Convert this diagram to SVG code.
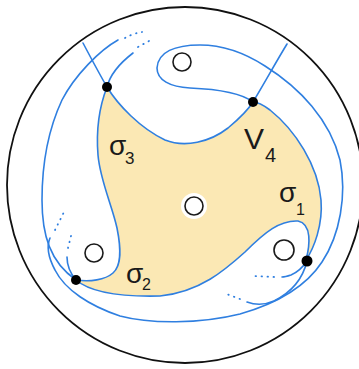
<svg xmlns="http://www.w3.org/2000/svg" width="359" height="369" viewBox="0 0 359 369">
<style>
.c{fill:none;stroke:#2f7fe0;stroke-width:1.6;stroke-linecap:round;stroke-linejoin:round}
.d{fill:none;stroke:#2f7fe0;stroke-width:1.8;stroke-linecap:round;stroke-dasharray:0.5 5.5}
.h{fill:#fff;stroke:#1a1a1a;stroke-width:1.6}
.p{fill:#000}
.t{font-family:"Liberation Sans","DejaVu Sans",sans-serif;fill:#1a1a1a}
</style>
<rect width="359" height="369" fill="#fff"/>
<g id="disk"><circle cx="185" cy="185" r="178" fill="none" stroke="#111" stroke-width="1.8"/></g>
<g id="region">
<path fill="#fbe8b4" d="M107,87 C118,105 140,128 165,140 C185,148 210,142 228,128 C240,118 248,110 253,102 C258,102 262,104 270,110 C295,130 318,165 321,200 C323,225 314,248 306,260 C310,245 312,224 298,221 C280,220 265,232 245,252 C225,270 200,292 160,296 C120,297 90,292 76,280 C90,282 105,280 113,273 C122,265 121,248 117,228 C112,205 100,180 98,155 C96,130 100,105 107,87 Z"/>
<circle cx="194" cy="206" r="13" fill="#fff"/>
</g>
<g id="connectors">
<path class="c" d="M83,43 C92,60 100,75 107,87 C118,105 140,128 165,140 C185,148 210,142 228,128 C240,118 248,110 253,102 C265,82 276,62 287,44"/>
<path class="c" d="M133,53 C120,63 110,75 107,87 C100,105 96,130 98,155 C100,180 112,205 117,228 C121,248 122,265 113,273 C105,280 90,282 76,280"/>
<path class="d" d="M138,47 L149,41"/>
<path class="c" d="M118,40 C100,50 75,75 62,100 C48,130 42,165 42,200 C42,235 50,262 76,280 C90,292 120,297 160,296 C200,292 225,270 245,252 C265,232 280,220 298,221 C312,224 310,245 306,260"/>
<path class="d" d="M125,38 C130,35 136,33 142,32"/>
<path class="c" d="M306,260 C314,248 323,225 321,200 C318,165 295,130 270,110 C262,104 258,102 253,102 C240,92 215,89 190,88 C170,87 157,80 157,68 C158,52 175,45 200,45 C225,45 248,55 265,66 C300,88 330,120 340,160 C347,195 340,235 322,262 C305,288 275,304 240,314 C200,324 150,324 120,316 C90,306 65,290 55,270 C47,255 47,245 50,238"/>
<path class="d" d="M55,230 L64,212"/>
<path class="c" d="M76,280 C70,273 67,265 67,257"/>
<path class="d" d="M68,248 L72,232"/>
<path class="c" d="M307,261 C303,267 298,272 291,275 C288,276 285,277 282,277"/>
<path class="d" d="M274,277 L254,276"/>
<path class="c" d="M307,261 C303,278 292,292 274,301 C265,305 255,305 247,302"/>
<path class="d" d="M240,299 L224,293"/>
</g>
<g id="holes">
<circle class="h" cx="182" cy="62" r="9"/>
<circle class="h" cx="194" cy="206" r="9"/>
<circle class="h" cx="94" cy="253" r="9"/>
<circle class="h" cx="284" cy="250" r="10"/>
</g>
<g id="sigma3"><circle class="p" cx="107" cy="87" r="5"/><text class="t" x="109" y="155" font-size="28">σ</text><text class="t" x="125" y="164" font-size="17">3</text></g>
<g id="v4"><circle class="p" cx="253" cy="102" r="5"/><text class="t" x="244" y="149" font-size="30">V</text><text class="t" x="265" y="162" font-size="20">4</text></g>
<g id="sigma1"><circle class="p" cx="307" cy="261" r="5.5"/><text class="t" x="279" y="202" font-size="28">σ</text><text class="t" x="296" y="215" font-size="16">1</text></g>
<g id="sigma2"><circle class="p" cx="76" cy="280" r="5"/><text class="t" x="126" y="283" font-size="28">σ</text><text class="t" x="142" y="290" font-size="16">2</text></g>
</svg>
